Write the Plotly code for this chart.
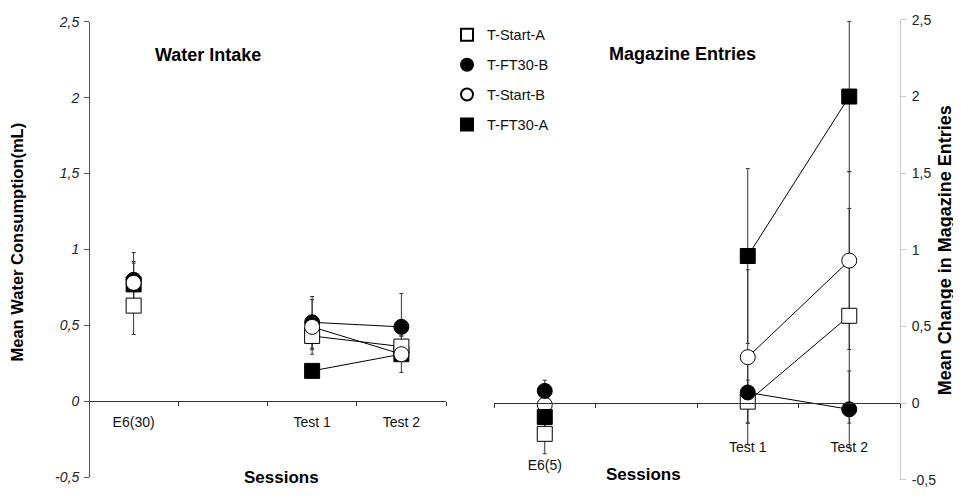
import plotly.graph_objects as go

# ---------------- data ----------------
series = ["T-Start-A", "T-FT30-B", "T-Start-B", "T-FT30-A"]

water_sessions = ["E6(30)", " ", "Test 1", "Test 2"]
water_start_a = [0.63, None, 0.43, 0.36]
water_ft30_b = [0.80, None, 0.52, 0.49]
water_start_b = [0.78, None, 0.49, 0.31]
water_ft30_a = [0.77, None, 0.20, 0.31]
water_err_start_a = [0.19, None, 0.09, 0.07]
water_err_ft30_b = [0.18, None, 0.17, 0.22]
water_err_start_b = [0.14, None, 0.18, 0.12]
water_err_ft30_a = [0.14, None, 0.0, 0.04]

mag_sessions = ["E6(5)", " ", "Test 1", "Test 2"]
mag_session_labels = ["<br>E6(5)", " ", "Test 1", "Test 2"]
mag_start_a = [-0.20, None, 0.01, 0.57]
mag_ft30_b = [0.08, None, 0.07, -0.04]
mag_start_b = [-0.01, None, 0.30, 0.93]
mag_ft30_a = [-0.09, None, 0.96, 2.00]
mag_err_start_a = [0.13, None, 0.14, 0.70]
mag_err_ft30_b = [0.07, None, 0.20, 0.25]
mag_err_start_b = [0.08, None, 0.57, 0.58]
mag_err_ft30_a = [0.10, None, 0.57, 0.49]

y_tickvals = [-0.5, 0, 0.5, 1, 1.5, 2, 2.5]
y_ticktext = ["-0,5", "0", "0,5", "1", "1,5", "2", "2,5"]

# ---------------- styles ----------------
W, H = 961, 499
OFF = 8  # the page body adds an 8px margin around the figure
FONT = "Liberation Sans, Arial, sans-serif"

def px(x):  # screen x -> paper fraction
    return (x - OFF) / W

def py(y):  # screen y -> paper fraction
    return 1 - (y - OFF) / H

sym = {"T-Start-A": ("square", "white"), "T-FT30-B": ("circle", "black"),
       "T-Start-B": ("circle", "white"), "T-FT30-A": ("square", "black")}

water = {"T-Start-A": (water_start_a, water_err_start_a), "T-FT30-B": (water_ft30_b, water_err_ft30_b),
         "T-Start-B": (water_start_b, water_err_start_b), "T-FT30-A": (water_ft30_a, water_err_ft30_a)}
mag = {"T-Start-A": (mag_start_a, mag_err_start_a), "T-FT30-B": (mag_ft30_b, mag_err_ft30_b),
       "T-Start-B": (mag_start_b, mag_err_start_b), "T-FT30-A": (mag_ft30_a, mag_err_ft30_a)}

water_order = ["T-FT30-A", "T-FT30-B", "T-Start-A", "T-Start-B"]
mag_order = ["T-Start-A", "T-Start-B", "T-FT30-B", "T-FT30-A"]

fig = go.Figure()

def add_panel(data, cats, order, xa, ya, legend):
    # error bars first
    for name in order:
        vals, errs = data[name]
        fig.add_trace(go.Scatter(
            x=cats, y=vals, mode="markers", xaxis=xa, yaxis=ya, showlegend=False,
            marker=dict(size=1, color="rgba(0,0,0,0)"),
            error_y=dict(type="data", array=errs, visible=True, color="#333333",
                         thickness=1, width=2),
            hoverinfo="skip"))
    # connecting lines
    for name in order:
        vals, _ = data[name]
        fig.add_trace(go.Scatter(
            x=cats, y=vals, mode="lines", xaxis=xa, yaxis=ya, showlegend=False,
            connectgaps=False, line=dict(color="black", width=1), hoverinfo="skip"))
    # markers
    for name in order:
        vals, _ = data[name]
        s, fill = sym[name]
        fig.add_trace(go.Scatter(
            x=cats, y=vals, mode="markers", xaxis=xa, yaxis=ya, name=name,
            legendgroup=name, showlegend=legend, legendrank=series.index(name),
            marker=dict(symbol=s, size=15, color=fill, line=dict(color="black", width=1))))

add_panel(water, water_sessions, water_order, "x", "y", True)
add_panel(mag, mag_sessions, mag_order, "x2", "y2", False)

# y domains (screen pixel positions of -0.5 and 2.5)
yl_dom = [py(484.4), py(14)]
yr_dom = [py(487.2), py(12)]
yl_zero = yl_dom[0] + (yl_dom[1] - yl_dom[0]) / 6
yr_zero = yr_dom[0] + (yr_dom[1] - yr_dom[0]) / 6

xaxis_common = dict(type="category", range=[-0.5, 3.5], showgrid=False, zeroline=False,
                    showline=True, linecolor="#333333", linewidth=1, ticks="outside",
                    tickson="boundaries", ticklen=4, tickcolor="#333333",
                    tickfont=dict(family=FONT, size=14, color="#111111"),
                    anchor="free")

def ann(text, x, y, size, angle=0):
    return dict(text=text, x=px(x), y=py(y), xref="paper", yref="paper",
                xanchor="center", yanchor="middle", textangle=angle, showarrow=False,
                font=dict(family=FONT, size=size, color="black"))

fig.update_layout(
    width=W, height=H, margin=dict(l=0, r=0, t=0, b=0),
    paper_bgcolor="white", plot_bgcolor="white",
    font=dict(family=FONT, color="#111111"),
    showlegend=True,
    legend=dict(x=px(447), y=py(11), xanchor="left", yanchor="top",
                bgcolor="rgba(0,0,0,0)", font=dict(family=FONT, size=14.5, color="#111111"),
                itemsizing="constant", traceorder="grouped", tracegroupgap=8,
                itemwidth=30),
    xaxis=dict(xaxis_common, domain=[px(89), px(446)], position=yl_zero,
               categoryarray=water_sessions, categoryorder="array", ticklabelstandoff=8),
    xaxis2=dict(xaxis_common, domain=[px(494), px(900)], position=yr_zero,
                categoryarray=mag_sessions, categoryorder="array",
                tickmode="array", tickvals=mag_sessions, ticktext=mag_session_labels,
                ticklabelstandoff=31),
    yaxis=dict(domain=yl_dom, range=[-0.5, 2.5], anchor="free", position=px(89),
               tickvals=y_tickvals, ticktext=y_ticktext, showgrid=False, zeroline=False,
               showline=True, linecolor="#555555", ticks="outside", ticklen=5,
               tickcolor="#555555", ticklabelstandoff=2, ticklabeloverflow="allow",
               tickfont=dict(family=FONT, size=14, color="#222222", style="italic")),
    yaxis2=dict(domain=yr_dom, range=[-0.5, 2.5], anchor="free", position=px(900),
                side="right", tickvals=y_tickvals, ticktext=y_ticktext, showgrid=False,
                zeroline=False, showline=True, linecolor="#c8c8c8", ticks="outside",
                ticklen=5, tickcolor="#c8c8c8", ticklabeloverflow="allow",
                ticklabelstandoff=3,
                tickfont=dict(family=FONT, size=14, color="#222222")),
    annotations=[
        ann("<b>Water Intake</b>", 208, 48, 18),
        ann("<b>Magazine Entries</b>", 682, 47, 18),
        ann("<b>Sessions</b>", 281, 485, 17),
        ann("<b>Sessions</b>", 643, 482, 17),
        ann("<b>Mean Water Consumption(mL)</b>", 17, 242, 16.5, -90),
        ann("<b>Mean Change in Magazine Entries</b>", 945, 250, 18, -90),
    ],
)

fig.write_html("out.html")
